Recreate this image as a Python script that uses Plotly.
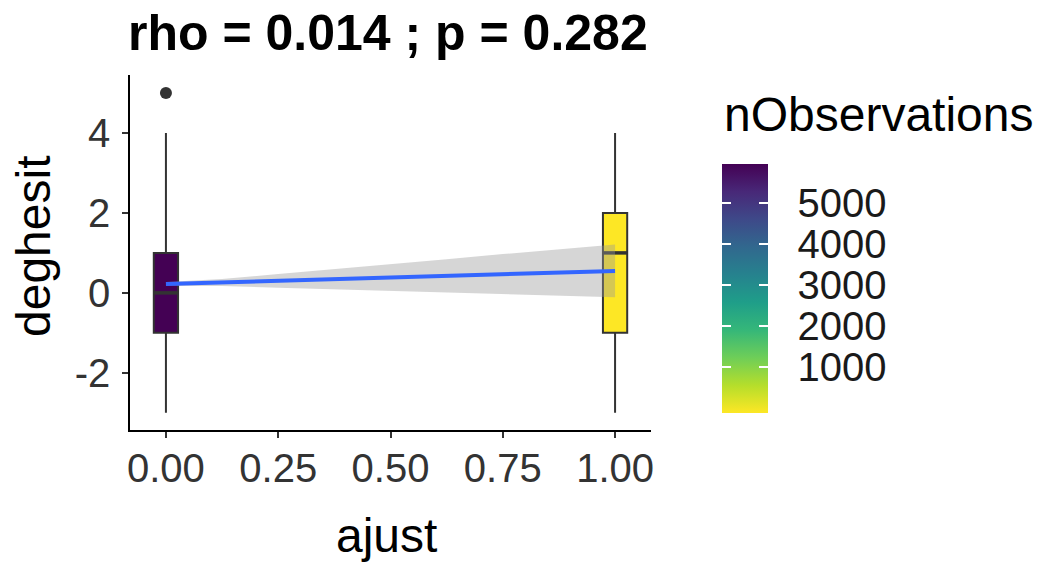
import plotly.graph_objects as go
from plotly.colors import sample_colorscale

# ---------------- data ----------------
ajust_levels = [0, 1]
n_observations = [5790, 30]
box_q1 = [-1, -1]
box_median = [0, 1]
box_q3 = [1, 2]
box_lower = [-3, -3]
box_upper = [4, 4]

outlier_x = [0]
outlier_y = [5]

fit_x = [0, 0.125, 0.25, 0.375, 0.5, 0.625, 0.75, 0.875, 1.0]
fit_y = [0.22, 0.26, 0.30, 0.34, 0.39, 0.43, 0.47, 0.51, 0.55]
fit_upper = [0.27, 0.35, 0.47, 0.59, 0.72, 0.84, 0.97, 1.09, 1.21]
fit_lower = [0.17, 0.17, 0.13, 0.09, 0.06, 0.02, -0.03, -0.07, -0.11]

x_tickvals = [0, 0.25, 0.5, 0.75, 1]
x_ticktext = ["0.00", "0.25", "0.50", "0.75", "1.00"]
y_tickvals = [-2, 0, 2, 4]
y_ticktext = ["-2", "0", "2", "4"]
cb_tickvals = [1000, 2000, 3000, 4000, 5000]
cb_ticktext = ["1000", "2000", "3000", "4000", "5000"]

title_text = "rho = 0.014 ; p = 0.282"
x_title = "ajust"
y_title = "deghesit"
legend_title = "nObservations"

# ---------------- layout geometry (pixels) ----------------
W, H = 1041, 570
PL, PR, PT, PB = 130, 651, 75, 430
FONT = "Liberation Sans, Arial, sans-serif"
TXT_GREY = "#333333"
BOX_W = 0.054

n_min, n_max = min(n_observations), max(n_observations)
# ggplot-style colourbar (20 bins): bar extends half a bin past the limits
half_bin = (n_max - n_min) / 19 / 2
cb_range = [n_min - half_bin, n_max + half_bin]


def px2x(px):
    return (px - PL) / (PR - PL)


def px2y(py):
    return (PB - py) / (PB - PT)


def fill_for(n):
    frac = (n_max - n) / (n_max - n_min)
    return sample_colorscale("Viridis", [frac])[0]


fig = go.Figure()

# boxes
for xi, n, q1, med, q3, lo, hi in zip(ajust_levels, n_observations, box_q1,
                                       box_median, box_q3, box_lower, box_upper):
    fig.add_trace(go.Box(
        x=[xi], q1=[q1], median=[med], q3=[q3],
        lowerfence=[lo], upperfence=[hi],
        width=BOX_W, whiskerwidth=0, boxpoints=False,
        fillcolor=fill_for(n),
        line=dict(color="#333333", width=2),
        showlegend=False, hoverinfo="skip",
    ))
    # thicker median bar (ggplot fatten)
    fig.add_trace(go.Scatter(
        x=[xi - BOX_W / 2, xi + BOX_W / 2], y=[med, med], mode="lines",
        line=dict(color="#333333", width=3.5),
        showlegend=False, hoverinfo="skip",
    ))

# outlier
fig.add_trace(go.Scatter(
    x=outlier_x, y=outlier_y, mode="markers",
    marker=dict(color="#333333", size=12),
    showlegend=False, hoverinfo="skip",
))

# confidence band
fig.add_trace(go.Scatter(
    x=fit_x, y=fit_upper, mode="lines", line=dict(width=0),
    showlegend=False, hoverinfo="skip",
))
fig.add_trace(go.Scatter(
    x=fit_x, y=fit_lower, mode="lines", line=dict(width=0),
    fill="tonexty", fillcolor="rgba(153,153,153,0.4)",
    showlegend=False, hoverinfo="skip",
))
# fitted line
fig.add_trace(go.Scatter(
    x=fit_x, y=fit_y, mode="lines",
    line=dict(color="#3366FF", width=4),
    showlegend=False, hoverinfo="skip",
))

# colour bar (main, carries gradient and labels)
cb_top_px, cb_len_px = 264, 249
cb_left_px, cb_thick = 722, 46
common_cb = dict(
    thicknessmode="pixels", lenmode="pixels", len=cb_len_px,
    xref="container", yref="container", yanchor="top",
    y=1 - cb_top_px / H, xanchor="left", xpad=0, ypad=0,
    outlinewidth=0, tickvals=cb_tickvals,
)
fig.add_trace(go.Scatter(
    x=ajust_levels, y=box_median, mode="markers",
    marker=dict(color=n_observations, colorscale="Viridis", reversescale=True,
                cmin=cb_range[0], cmax=cb_range[1], opacity=0, size=1,
                colorbar=dict(
                    **common_cb, thickness=cb_thick, x=cb_left_px / W,
                    ticktext=cb_ticktext, ticks="outside", ticklen=22,
                    tickcolor="rgba(0,0,0,0)",
                    tickfont=dict(family=FONT, size=40, color="#1a1a1a"),
                )),
    showlegend=False, hoverinfo="skip",
))
clear = [[0, "rgba(0,0,0,0)"], [1, "rgba(0,0,0,0)"]]
# white tick marks on right edge
fig.add_trace(go.Scatter(
    x=ajust_levels, y=box_median, mode="markers",
    marker=dict(color=n_observations, colorscale=clear, showscale=True,
                cmin=cb_range[0], cmax=cb_range[1], opacity=0, size=1,
                colorbar=dict(
                    **common_cb, thickness=cb_thick, x=cb_left_px / W,
                    ticks="inside", ticklen=9, tickwidth=1.6, tickcolor="white",
                    showticklabels=False,
                )),
    showlegend=False, hoverinfo="skip",
))
# white tick marks on left edge
fig.add_trace(go.Scatter(
    x=ajust_levels, y=box_median, mode="markers",
    marker=dict(color=n_observations, colorscale=clear, showscale=True,
                cmin=cb_range[0], cmax=cb_range[1], opacity=0, size=1,
                colorbar=dict(
                    **common_cb, thickness=9, x=cb_left_px / W,
                    ticks="inside", ticklen=9, tickwidth=1.6, tickcolor="white",
                    showticklabels=False,
                )),
    showlegend=False, hoverinfo="skip",
))

axis_common = dict(
    showgrid=False, zeroline=False, showline=True, linecolor="black",
    linewidth=1.5, ticks="outside", ticklen=6, tickwidth=1.5,
    tickcolor="#333333", tickfont=dict(family=FONT, size=40, color=TXT_GREY),
    fixedrange=True,
)

fig.update_layout(
    width=W, height=H,
    margin=dict(l=PL, r=W - PR, t=PT, b=H - PB, pad=0),
    paper_bgcolor="white", plot_bgcolor="white",
    showlegend=False,
    xaxis=dict(**axis_common, range=[-0.08, 1.08], tickvals=x_tickvals,
               ticktext=x_ticktext, ticklabelstandoff=-4),
    yaxis=dict(**axis_common, range=[-3.43, 5.45], tickvals=y_tickvals,
               ticktext=y_ticktext, ticklabelstandoff=4),
    annotations=[
        dict(text="<b>" + title_text + "</b>", x=px2x(388), y=px2y(33),
             xref="paper", yref="paper", xanchor="center", yanchor="middle",
             showarrow=False, font=dict(family=FONT, size=50, color="black")),
        dict(text=x_title, x=px2x(386), y=px2y(535), xref="paper", yref="paper",
             xanchor="center", yanchor="middle", showarrow=False,
             font=dict(family=FONT, size=48, color="black")),
        dict(text=y_title, x=px2x(33), y=px2y(247), xref="paper", yref="paper",
             xanchor="center", yanchor="middle", textangle=-90, showarrow=False,
             font=dict(family=FONT, size=48, color="black")),
        dict(text=legend_title, x=px2x(722), y=px2y(115), xref="paper",
             yref="paper", xanchor="left", yanchor="middle", showarrow=False,
             font=dict(family=FONT, size=48, color="black")),
    ],
)

fig.write_html("out.html")
